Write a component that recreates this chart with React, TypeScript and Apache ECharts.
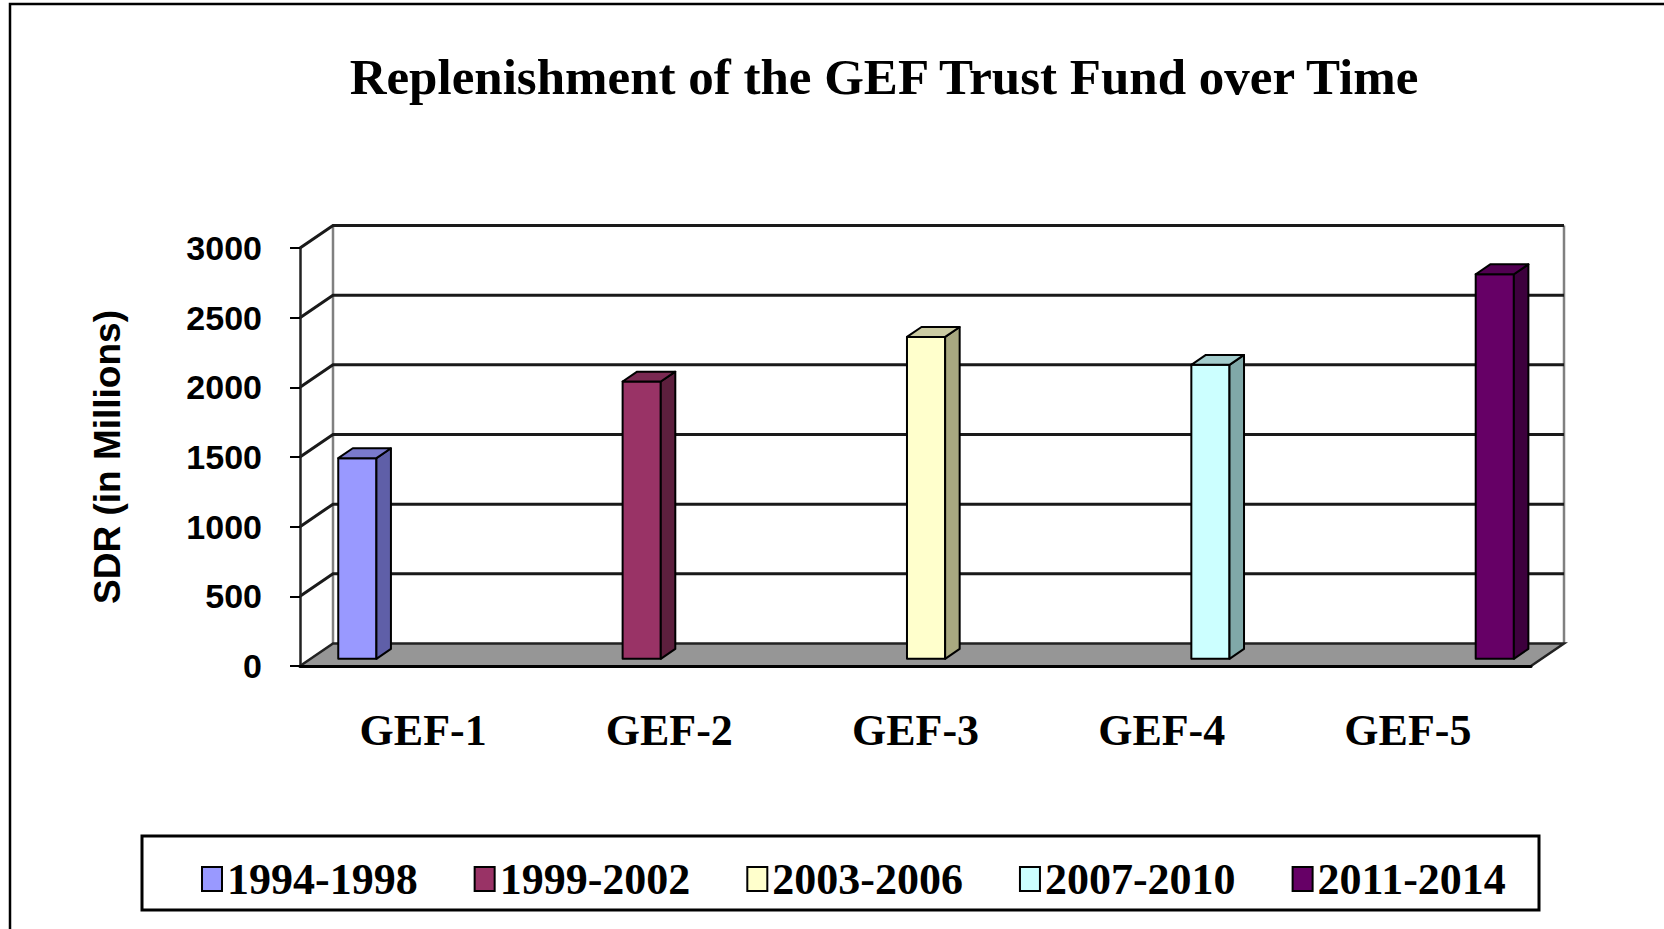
import React, { useEffect, useRef } from "react";
import * as echarts from "echarts";

const categories = ["GEF-1", "GEF-2", "GEF-3", "GEF-4", "GEF-5"];
const periods = ["1994-1998", "1999-2002", "2003-2006", "2007-2010", "2011-2014"];
const values = [1440, 1990, 2310, 2110, 2760];
const yTicks = [0, 500, 1000, 1500, 2000, 2500, 3000];

const frontColors = ["#9999FF", "#993366", "#FFFFCC", "#CCFFFF", "#660066"];
const sideColors = ["#5F5FA8", "#5C1F3D", "#A8A880", "#80A8A8", "#3D003D"];
const topColors = ["#7A7ACC", "#7A2952", "#CCCCA3", "#A3CCCC", "#520052"];

const DX = 33;
const DY = -22.5;
const F1 = 0.32;
const F2 = 0.76;
const BAR_FRAC = 0.155;

export default function App() {
  const ref = useRef<HTMLDivElement>(null);

  useEffect(() => {
    if (!ref.current) return;
    const chart = echarts.init(ref.current, undefined, { renderer: "svg" });

    const frameSeries: any = {
      type: "custom",
      name: "frame",
      silent: true,
      z: 1,
      data: yTicks.map((v) => [0, v]),
      encode: { x: 0, y: 1 },
      renderItem: (params: any, api: any) => {
        const cs = params.coordSys;
        const v = api.value(1);
        const y = api.coord([0, v])[1];
        const left = cs.x;
        const right = cs.x + cs.width;
        const topY = cs.y;
        if (v === 0) {
          return {
            type: "group",
            children: [
              {
                type: "polygon",
                shape: {
                  points: [
                    [left, y],
                    [right, y],
                    [right + DX, y + DY],
                    [left + DX, y + DY],
                  ],
                },
                style: { fill: "#969696", stroke: null },
              },
              {
                type: "line",
                shape: { x1: left + DX, y1: topY + DY, x2: left + DX, y2: y + DY },
                style: { stroke: "#808080", lineWidth: 2.5 },
              },
              {
                type: "line",
                shape: { x1: right + DX, y1: topY + DY, x2: right + DX, y2: y + DY },
                style: { stroke: "#808080", lineWidth: 2.5 },
              },
              {
                type: "polyline",
                shape: {
                  points: [
                    [left, y],
                    [left + DX, y + DY],
                    [right + DX, y + DY],
                    [right, y],
                  ],
                },
                style: { stroke: "#222", lineWidth: 2.5, fill: null },
              },
            ],
          };
        }
        return {
          type: "polyline",
          shape: {
            points: [
              [left, y],
              [left + DX, y + DY],
              [right + DX, y + DY],
            ],
          },
          style: { stroke: "#1a1a1a", lineWidth: 3, fill: null },
        };
      },
    };

    const barSeries: any[] = periods.map((p, i) => ({
      type: "custom",
      name: p,
      z: 3,
      itemStyle: { color: frontColors[i] },
      data: [[i, values[i]]],
      encode: { x: 0, y: 1 },
      renderItem: (params: any, api: any) => {
        const cat = api.value(0);
        const v = api.value(1);
        const base = api.coord([cat, 0]);
        const tp = api.coord([cat, v]);
        const band = api.size([1, 0])[0];
        const w = band * BAR_FRAC;
        const cx = base[0] + (i - 2) * w + F1 * DX;
        const x0 = cx - w / 2;
        const x1 = cx + w / 2;
        const yb = base[1] + F1 * DY;
        const yt = tp[1] + F1 * DY;
        const ddx = (F2 - F1) * DX;
        const ddy = (F2 - F1) * DY;
        const st = { stroke: "#000", lineWidth: 2, lineJoin: "round" };
        return {
          type: "group",
          children: [
            {
              type: "polygon",
              shape: { points: [[x0, yb], [x1, yb], [x1, yt], [x0, yt]] },
              style: { ...st, fill: frontColors[i] },
            },
            {
              type: "polygon",
              shape: {
                points: [
                  [x1, yb],
                  [x1 + ddx, yb + ddy],
                  [x1 + ddx, yt + ddy],
                  [x1, yt],
                ],
              },
              style: { ...st, fill: sideColors[i] },
            },
            {
              type: "polygon",
              shape: {
                points: [
                  [x0, yt],
                  [x1, yt],
                  [x1 + ddx, yt + ddy],
                  [x0 + ddx, yt + ddy],
                ],
              },
              style: { ...st, fill: topColors[i] },
            },
          ],
        };
      },
    }));

    chart.setOption({
      animation: false,
      backgroundColor: "#ffffff",
      title: {
        text: "Replenishment of the GEF Trust Fund over Time",
        left: 879,
        textAlign: "center",
        top: 46,
        textStyle: {
          fontFamily: "'Liberation Serif', 'Times New Roman', serif",
          fontWeight: "bold",
          fontSize: 51,
          color: "#000",
        },
      },
      legend: {
        data: periods,
        left: 196,
        top: 852,
        icon: "rect",
        itemWidth: 20,
        itemHeight: 24,
        itemGap: 56,
        itemStyle: { borderColor: "#000", borderWidth: 2 },
        textStyle: {
          fontFamily: "'Liberation Serif', 'Times New Roman', serif",
          fontWeight: "bold",
          fontSize: 44,
          color: "#000",
        },
      },
      graphic: [
        {
          type: "rect",
          shape: { x: 10, y: 4, width: 1700, height: 1000 },
          style: { fill: null, stroke: "#000", lineWidth: 2.5 },
          silent: true,
        },
        {
          type: "rect",
          shape: { x: 142, y: 836, width: 1397, height: 74 },
          style: { fill: null, stroke: "#000", lineWidth: 3 },
          silent: true,
        },
      ],
      grid: { left: 300, top: 248, width: 1231, height: 418 },
      xAxis: {
        type: "category",
        data: categories,
        z: 10,
        axisLine: { lineStyle: { color: "#000", width: 3 } },
        axisTick: { length: 10, lineStyle: { color: "#000", width: 2 } },
        axisLabel: {
          fontFamily: "'Liberation Serif', 'Times New Roman', serif",
          fontWeight: "bold",
          fontSize: 44,
          color: "#000",
          margin: 42,
        },
        splitLine: { show: false },
      },
      yAxis: {
        type: "value",
        min: 0,
        max: 3000,
        interval: 500,
        z: 10,
        name: "SDR (in Millions)",
        nameLocation: "middle",
        nameRotate: 90,
        nameGap: 174,
        nameTextStyle: {
          fontFamily: "'Liberation Sans', Arial, sans-serif",
          fontWeight: "bold",
          fontSize: 37,
          color: "#000",
        },
        axisLine: { show: true, lineStyle: { color: "#222", width: 2.5 } },
        axisTick: { show: true, length: 10, lineStyle: { color: "#000", width: 2 } },
        axisLabel: {
          fontFamily: "'Liberation Sans', Arial, sans-serif",
          fontWeight: "bold",
          fontSize: 34,
          color: "#000",
          margin: 38,
          formatter: (v: number) => String(v),
        },
        splitLine: { show: false },
      },
      series: [frameSeries, ...barSeries],
    });

    return () => chart.dispose();
  }, []);

  return (
    <div
      ref={ref}
      style={{ position: "fixed", left: 0, top: 0, width: 1664, height: 929, background: "#fff" }}
    />
  );
}
